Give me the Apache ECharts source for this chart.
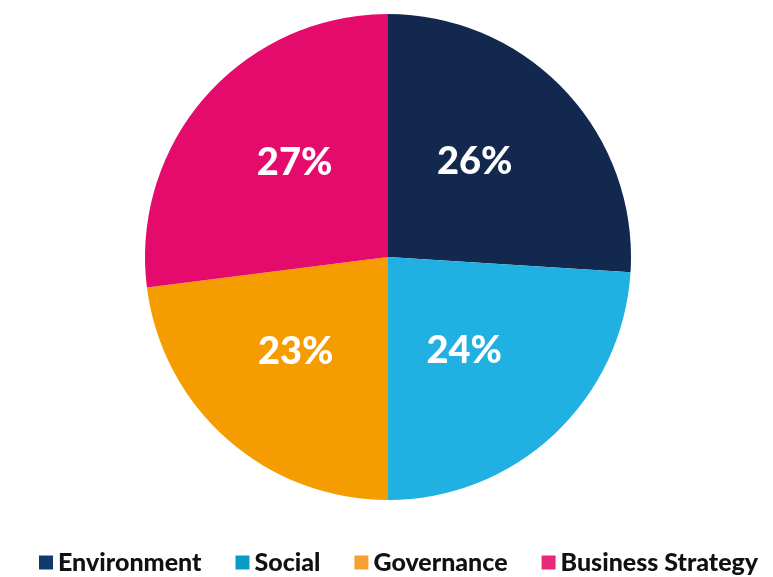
<!DOCTYPE html>
<html>
<head>
<meta charset="utf-8">
<script src="https://cdn.jsdelivr.net/npm/echarts@6/dist/echarts.min.js"></script>
<style>
  html, body { margin: 0; padding: 0; background: #fff; }
  #chart { width: 773px; height: 577px; }
</style>
</head>
<body>
<div id="chart"></div>
<script>
// Share of topics (percent)
const categories = ['Environment', 'Social', 'Governance', 'Business Strategy'];
const shares = [26, 24, 23, 27];
const sliceColors = ['#12284f', '#21b0e2', '#f59c00', '#e40b6c'];
const legendColors = ['#0f3a6b', '#0a9bc4', '#f7a032', '#e8287a'];
// small nudges so the labels sit evenly in each quadrant
const labelNudge = [[-4, -10], [-9, 3], [-10, 1], [0, -12]];

const chart = echarts.init(document.getElementById('chart'));
chart.setOption({
  animation: false,
  legend: {
    bottom: -3,
    left: 34,
    itemWidth: 14,
    itemHeight: 14,
    itemGap: 34,
    icon: 'rect',
    textStyle: {
      fontFamily: 'Lato',
      fontWeight: 900,
      fontSize: 25,
      color: '#111'
    },
    data: categories.map((name, i) => ({
      name,
      itemStyle: { color: legendColors[i] }
    }))
  },
  series: [{
    type: 'pie',
    center: [388, 257],
    radius: [0, 243],
    startAngle: 90,
    clockwise: true,
    label: {
      show: true,
      position: 'inner',
      formatter: '{c}%',
      fontFamily: 'Lato',
      fontWeight: 900,
      fontSize: 38,
      color: '#fff'
    },
    labelLayout: function (params) {
      const n = labelNudge[params.dataIndex];
      return { dx: n[0], dy: n[1] };
    },
    labelLine: { show: false },
    emphasis: { disabled: true },
    data: categories.map((name, i) => ({
      name,
      value: shares[i],
      itemStyle: { color: sliceColors[i] }
    }))
  }]
});
</script>
</body>
</html>
